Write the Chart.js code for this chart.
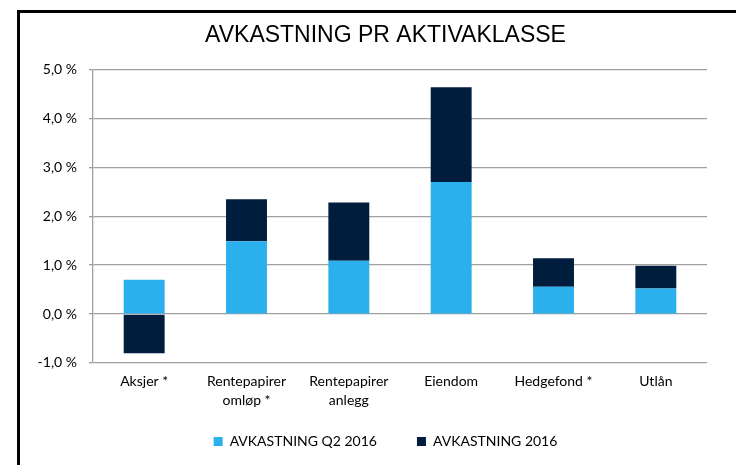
<!DOCTYPE html>
<html>
<head>
<meta charset="utf-8">
<script src="https://cdn.jsdelivr.net/npm/chart.js@4/dist/chart.umd.min.js"></script>
<style>
  html, body { margin: 0; padding: 0; background: #fff; overflow: hidden; }
  #frame { position: absolute; left: 17px; top: 10px; width: 800px; height: 600px;
           border-left: 3px solid #000; border-top: 3px solid #000; box-sizing: border-box; }
  #wrap { position: absolute; left: 0; top: 0; width: 736px; height: 465px; }
</style>
</head>
<body>
<div id="frame"></div>
<div id="wrap"><canvas id="c" width="736" height="465"></canvas></div>
<script>
const categories = [
  "Aksjer *",
  ["Rentepapirer", "omløp *"],
  ["Rentepapirer", "anlegg"],
  "Eiendom",
  "Hedgefond *",
  "Utlån"
];
const seriesNames = ["AVKASTNING Q2 2016", "AVKASTNING 2016"];
const q2Values = [0.70, 1.49, 1.09, 2.70, 0.56, 0.52];
const yearValues = [-0.80, 0.86, 1.19, 1.94, 0.58, 0.47];
const yTicks = [-1, 0, 1, 2, 3, 4, 5];
const titleText = "AVKASTNING PR AKTIVAKLASSE";

const gridColor = "#a0a0a0";
const lightBlue = "#2ab0ec";
const navy = "#011d3d";

const LEGEND_PAD = 40;
// shift title and legend so they are centred on the framed panel
const recentre = {
  id: "recentre",
  afterLayout(chart) {
    const dx = 22;
    const t = chart.titleBlock;
    if (t) { t.left += dx; t.right += dx; }
    const lg = chart.legend;
    if (lg) {
      lg.left += dx; lg.right += dx;
      const h = lg.bottom - lg.top;
      const top = 434.5 - LEGEND_PAD;
      lg.top = top; lg.bottom = top + h;
      if (lg.adjustHitBoxes) lg.adjustHitBoxes();
    }
  }
};

new Chart(document.getElementById("c"), {
  type: "bar",
  data: {
    labels: categories,
    datasets: [
      { label: seriesNames[0], data: q2Values, backgroundColor: lightBlue,
        barPercentage: 0.4, categoryPercentage: 1.0 },
      { label: seriesNames[1], data: yearValues, backgroundColor: navy,
        barPercentage: 0.4, categoryPercentage: 1.0 }
    ]
  },
  plugins: [recentre],
  options: {
    responsive: false,
    animation: false,
    devicePixelRatio: 1,
    layout: { padding: { left: 20, right: 29, top: 10, bottom: -18 } },
    plugins: {
      title: {
        display: true,
        text: titleText,
        color: "#000",
        font: { family: "'Liberation Sans', Arial", size: 23, weight: "normal" },
        padding: { top: 12, bottom: 20 }
      },
      legend: {
        position: "bottom",
        labels: {
          color: "#000",
          font: { family: "Lato", size: 14 },
          boxWidth: 9, boxHeight: 9,
          padding: LEGEND_PAD
        }
      },
      tooltip: { enabled: false }
    },
    scales: {
      x: {
        stacked: true,
        grid: { display: false, drawTicks: false },
        border: { display: false },
        ticks: {
          color: "#000",
          font: { family: "Lato", size: 14, lineHeight: 1.36 },
          padding: 9,
          maxRotation: 0, autoSkip: false
        }
      },
      y: {
        stacked: true,
        min: -1, max: 5,
        afterBuildTicks: (s) => { s.ticks = yTicks.map(v => ({ value: v })); },
        afterFit: (s) => { s.width = 73; },
        grid: { color: gridColor, lineWidth: 1.3, tickLength: 4, drawTicks: true },
        border: { display: true, color: gridColor, width: 1.3 },
        ticks: {
          color: "#000",
          font: { family: "Lato", size: 14 },
          padding: 12,
          callback: (v) => v.toFixed(1).replace(".", ",") + " %"
        }
      }
    }
  }
});
</script>
</body>
</html>
